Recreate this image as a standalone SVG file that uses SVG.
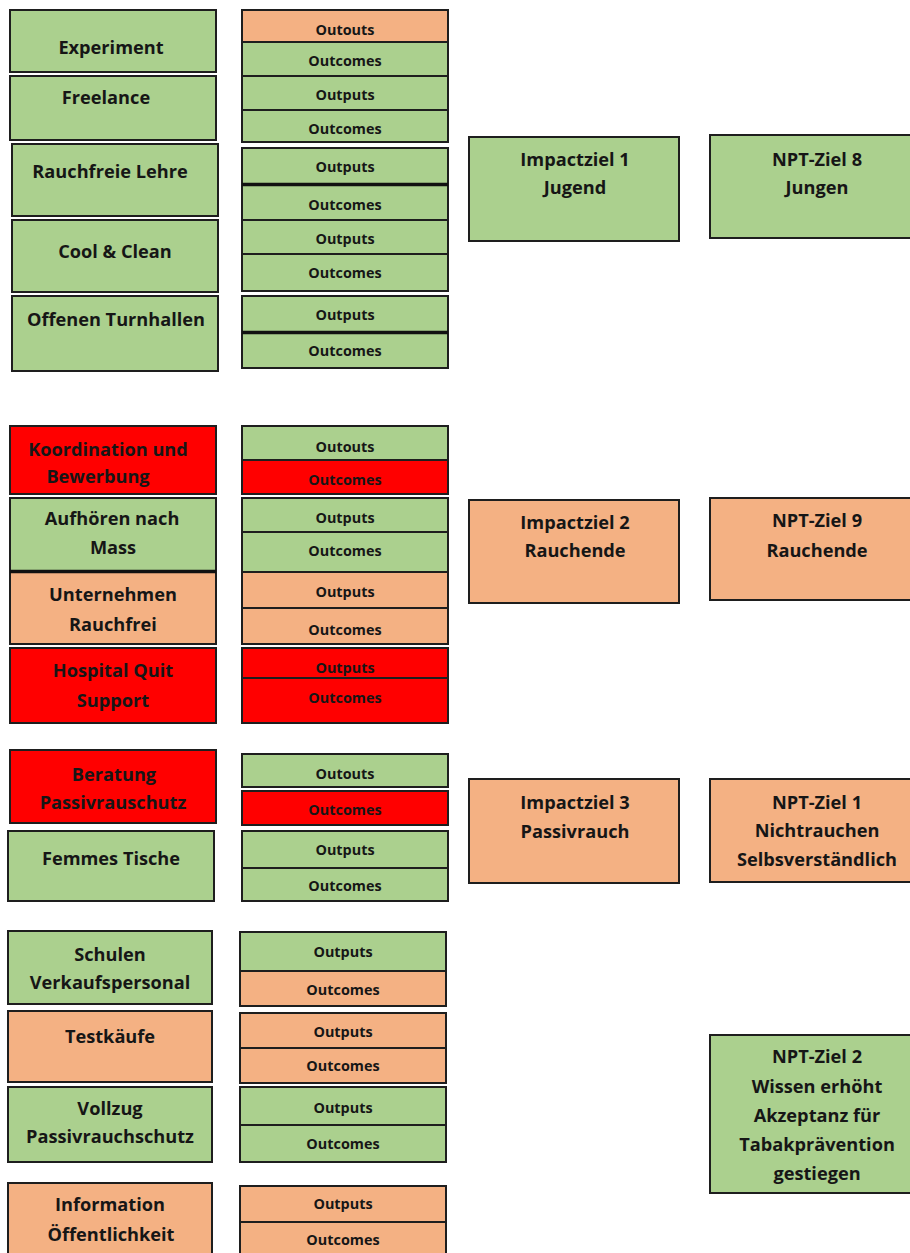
<svg xmlns="http://www.w3.org/2000/svg" width="910" height="1253" viewBox="0 0 910 1253">
<style>
rect{stroke:#1e1e1e;stroke-width:2}
.g{fill:#ABD08E}.o{fill:#F4B183}.r{fill:#FF0000}
.thick{stroke:#111;stroke-width:3.5}
text{font-family:"Open Sans",Lato,"Liberation Sans",sans-serif;font-weight:bold;fill:#161616;text-anchor:middle}
.t{font-size:18.2px}
.s{font-size:14.4px}
</style>
<g id="connectors"/>
<!-- Section 1 left -->
<g id="n-experiment"><rect class="g" x="10" y="10" width="206" height="62"/><text class="t" x="111" y="54">Experiment</text></g>
<g id="n-freelance"><rect class="g" x="10" y="76" width="206" height="64"/><text class="t" x="106" y="104">Freelance</text></g>
<g id="n-rauchfreie"><rect class="g" x="12" y="144" width="206" height="72"/><text class="t" x="110" y="178">Rauchfreie Lehre</text></g>
<g id="n-cool"><rect class="g" x="12" y="220" width="206" height="72"/><text class="t" x="115" y="258">Cool &amp; Clean</text></g>
<g id="n-turnhallen"><rect class="g" x="12" y="296" width="206" height="75"/><text class="t" x="116" y="326">Offenen Turnhallen</text></g>
<!-- Section 1 right -->
<g id="c1a"><rect class="o" x="242" y="10" width="206" height="32"/><text class="s" x="345" y="35">Outouts</text></g>
<g id="c1b"><rect class="g" x="242" y="42" width="206" height="34"/><text class="s" x="345" y="66">Outcomes</text></g>
<g id="c2a"><rect class="g" x="242" y="76" width="206" height="34"/><text class="s" x="345" y="100">Outputs</text></g>
<g id="c2b"><rect class="g" x="242" y="110" width="206" height="32"/><text class="s" x="345" y="134">Outcomes</text></g>
<g id="c3a"><rect class="g" x="242" y="148" width="206" height="36"/><text class="s" x="345" y="172">Outputs</text></g>
<g id="c3b"><rect class="g" x="242" y="184" width="206" height="36"/><text class="s" x="345" y="210">Outcomes</text><line class="thick" x1="242" y1="184.5" x2="448" y2="184.5"/></g>
<g id="c4a"><rect class="g" x="242" y="220" width="206" height="34"/><text class="s" x="345" y="244">Outputs</text></g>
<g id="c4b"><rect class="g" x="242" y="254" width="206" height="37"/><text class="s" x="345" y="278">Outcomes</text></g>
<g id="c5a"><rect class="g" x="242" y="296" width="206" height="36"/><text class="s" x="345" y="320">Outputs</text></g>
<g id="c5b"><rect class="g" x="242" y="332" width="206" height="36"/><text class="s" x="345" y="356">Outcomes</text><line class="thick" x1="242" y1="332.5" x2="448" y2="332.5"/></g>
<!-- Section 2 left -->
<g id="n-koordination"><rect class="r" x="10" y="426" width="206" height="68"/><text class="t" x="108" y="456">Koordination und</text><text class="t" x="98" y="483">Bewerbung</text></g>
<g id="n-aufhoeren"><rect class="g" x="10" y="498" width="206" height="73"/><text class="t" x="112" y="525">Aufhören nach</text><text class="t" x="113" y="554">Mass</text></g>
<g id="n-unternehmen"><rect class="o" x="10" y="572" width="206" height="72"/><text class="t" x="113" y="601">Unternehmen</text><text class="t" x="113" y="631">Rauchfrei</text><line class="thick" x1="10" y1="571.5" x2="216" y2="571.5"/></g>
<g id="n-hospital"><rect class="r" x="10" y="648" width="206" height="75"/><text class="t" x="113" y="677">Hospital Quit</text><text class="t" x="113" y="707">Support</text></g>
<!-- Section 2 right -->
<g id="c6a"><rect class="g" x="242" y="426" width="206" height="34"/><text class="s" x="345" y="452">Outouts</text></g>
<g id="c6b"><rect class="r" x="242" y="460" width="206" height="34"/><text class="s" x="345" y="485">Outcomes</text></g>
<g id="c7a"><rect class="g" x="242" y="498" width="206" height="34"/><text class="s" x="345" y="523">Outputs</text></g>
<g id="c7b"><rect class="g" x="242" y="532" width="206" height="40"/><text class="s" x="345" y="556">Outcomes</text></g>
<g id="c8a"><rect class="o" x="242" y="572" width="206" height="36"/><text class="s" x="345" y="597">Outputs</text></g>
<g id="c8b"><rect class="o" x="242" y="608" width="206" height="36"/><text class="s" x="345" y="635">Outcomes</text></g>
<g id="c9a"><rect class="r" x="242" y="648" width="206" height="30"/><text class="s" x="345" y="673">Outputs</text></g>
<g id="c9b"><rect class="r" x="242" y="678" width="206" height="45"/><text class="s" x="345" y="703">Outcomes</text></g>
<!-- Section 3 left -->
<g id="n-beratung"><rect class="r" x="10" y="750" width="206" height="73"/><text class="t" x="114" y="781">Beratung</text><text class="t" x="113" y="809">Passivrauschutz</text></g>
<g id="n-femmes"><rect class="g" x="8" y="831" width="206" height="70"/><text class="t" x="111" y="865">Femmes Tische</text></g>
<!-- Section 3 right -->
<g id="c10a"><rect class="g" x="242" y="754" width="206" height="33"/><text class="s" x="345" y="779">Outouts</text></g>
<g id="c10b"><rect class="r" x="242" y="791" width="206" height="34"/><text class="s" x="345" y="815">Outcomes</text></g>
<g id="c11a"><rect class="g" x="242" y="831" width="206" height="37"/><text class="s" x="345" y="855">Outputs</text></g>
<g id="c11b"><rect class="g" x="242" y="868" width="206" height="33"/><text class="s" x="345" y="891">Outcomes</text></g>
<!-- Section 4 left -->
<g id="n-schulen"><rect class="g" x="8" y="931" width="204" height="73"/><text class="t" x="110" y="961">Schulen</text><text class="t" x="110" y="989">Verkaufspersonal</text></g>
<g id="n-testkaeufe"><rect class="o" x="8" y="1011" width="204" height="71"/><text class="t" x="110" y="1043">Testkäufe</text></g>
<g id="n-vollzug"><rect class="g" x="8" y="1087" width="204" height="75"/><text class="t" x="110" y="1115">Vollzug</text><text class="t" x="110" y="1143">Passivrauchschutz</text></g>
<g id="n-information"><rect class="o" x="8" y="1183" width="204" height="76"/><text class="t" x="110" y="1211">Information</text><text class="t" x="111" y="1241">Öffentlichkeit</text></g>
<!-- Section 4 right -->
<g id="c12a"><rect class="g" x="240" y="932" width="206" height="39"/><text class="s" x="343" y="957">Outputs</text></g>
<g id="c12b"><rect class="o" x="240" y="971" width="206" height="35"/><text class="s" x="343" y="995">Outcomes</text></g>
<g id="c13a"><rect class="o" x="240" y="1013" width="206" height="35"/><text class="s" x="343" y="1037">Outputs</text></g>
<g id="c13b"><rect class="o" x="240" y="1048" width="206" height="35"/><text class="s" x="343" y="1071">Outcomes</text></g>
<g id="c14a"><rect class="g" x="240" y="1087" width="206" height="38"/><text class="s" x="343" y="1113">Outputs</text></g>
<g id="c14b"><rect class="g" x="240" y="1125" width="206" height="37"/><text class="s" x="343" y="1149">Outcomes</text></g>
<g id="c15a"><rect class="o" x="240" y="1186" width="206" height="36"/><text class="s" x="343" y="1209">Outputs</text></g>
<g id="c15b"><rect class="o" x="240" y="1222" width="206" height="37"/><text class="s" x="343" y="1245">Outcomes</text></g>
<!-- Impact goals -->
<g id="n-impact1"><rect class="g" x="469" y="137" width="210" height="104"/><text class="t" x="575" y="166">Impactziel 1</text><text class="t" x="575" y="194">Jugend</text></g>
<g id="n-npt8"><rect class="g" x="710" y="135" width="214" height="103"/><text class="t" x="817" y="166">NPT-Ziel 8</text><text class="t" x="817" y="194">Jungen</text></g>
<g id="n-impact2"><rect class="o" x="469" y="500" width="210" height="103"/><text class="t" x="575" y="529">Impactziel 2</text><text class="t" x="575" y="557">Rauchende</text></g>
<g id="n-npt9"><rect class="o" x="710" y="498" width="214" height="102"/><text class="t" x="817" y="527">NPT-Ziel 9</text><text class="t" x="817" y="557">Rauchende</text></g>
<g id="n-impact3"><rect class="o" x="469" y="779" width="210" height="104"/><text class="t" x="575" y="809">Impactziel 3</text><text class="t" x="575" y="838">Passivrauch</text></g>
<g id="n-npt1"><rect class="o" x="710" y="779" width="214" height="103"/><text class="t" x="817" y="809">NPT-Ziel 1</text><text class="t" x="817" y="837">Nichtrauchen</text><text class="t" x="817" y="866">Selbsverständlich</text></g>
<g id="n-npt2"><rect class="g" x="710" y="1035" width="214" height="158"/><text class="t" x="817" y="1063">NPT-Ziel 2</text><text class="t" x="817" y="1093">Wissen erhöht</text><text class="t" x="817" y="1122">Akzeptanz für</text><text class="t" x="817" y="1151">Tabakprävention</text><text class="t" x="817" y="1180">gestiegen</text></g>
</svg>
